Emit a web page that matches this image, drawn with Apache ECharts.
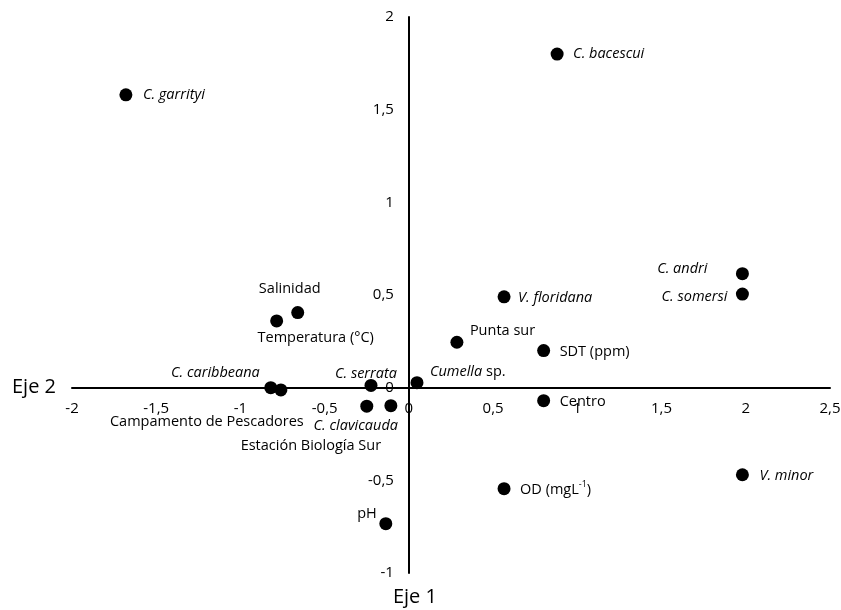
<!DOCTYPE html>
<html><head><meta charset="utf-8">
<script src="https://cdn.jsdelivr.net/npm/echarts@6/dist/echarts.min.js"></script>
<style>html,body{margin:0;padding:0;background:#fff}#c{width:841px;height:610px}</style>
</head><body><div id="c"></div>
<script>
// Data
const pointNames = ['C. garrityi','C. bacescui','C. andri','C. somersi','V. floridana','Punta sur','SDT (ppm)','Cumella sp.','Centro','V. minor','OD (mgL-1)','pH','Salinidad','Temperatura (°C)','C. caribbeana','Campamento de Pescadores','C. serrata','C. clavicauda','Estación Biología Sur'];
const eje2Values = [-1.68, 0.88, 1.98, 1.98, 0.565, 0.285, 0.80, 0.048, 0.80, 1.98, 0.565, -0.137, -0.66, -0.785, -0.82, -0.76, -0.225, -0.25, -0.107];
const eje1Values = [1.58, 1.80, 0.615, 0.505, 0.49, 0.245, 0.20, 0.027, -0.07, -0.47, -0.545, -0.734, 0.405, 0.36, 0.0, -0.012, 0.012, -0.10, -0.097];
const italicFlags = [true,true,true,true,true,false,false,false,false,true,false,false,false,false,true,false,true,true,false];
const xTicks = [-2,-1.5,-1,-0.5,0,0.5,1,1.5,2,2.5];
const yTicks = [-1,-0.5,0,0.5,1,1.5,2];

// Label placement relative to dot centre (style, not data): [align, dx, dy]
const labelLayout = [
  ['left',17,0],
  ['left',16,0],
  ['right',-35,-5],
  ['right',-15,3],
  ['left',14,1],
  ['left',13,-11],
  ['left',16,1],
  ['left',13,-11],
  ['left',16,1],
  ['left',17,1],
  ['left',16,1],
  ['right',-9,-10],
  ['center',-8,-24],
  ['center',39,17],
  ['right',-11,-15],
  ['center',-74,32],
  ['center',-5,-12],
  ['center',-11,20],
  ['center',-80,40]
];

const FONT = 'Open Sans';
const SYM = 13;
const fmt = v => String(v).replace('.', ',');

const seriesData = pointNames.map((n, i) => {
  const [al, dx, dy] = labelLayout[i];
  let formatter = n;
  if (n === 'Cumella sp.') formatter = '{i|Cumella}{n| sp.}';
  else if (n === 'OD (mgL-1)') formatter = '{n|OD (mgL}{s|-1}{n|)}';
  return {
    value: [eje2Values[i], eje1Values[i]],
    name: n,
    label: {
      show: true,
      position: [SYM / 2 + dx, SYM / 2 + dy],
      align: al, verticalAlign: 'middle',
      formatter: formatter,
      fontStyle: italicFlags[i] ? 'italic' : 'normal'
    }
  };
});

const GL = 72, GR = 11, GT = 17, GB = 37;
const W = 841, H = 610;
const xZeroPx = GL + (W - GL - GR) * (0 - xTicks[0]) / (xTicks[xTicks.length-1] - xTicks[0]);
const yZeroPx = GT + (H - GT - GB) * (yTicks[yTicks.length-1] - 0) / (yTicks[yTicks.length-1] - yTicks[0]);

const chart = echarts.init(document.getElementById('c'));
chart.setOption({
  animation: false,
  backgroundColor: '#fff',
  grid: { left: GL, right: GR, top: GT, bottom: GB, containLabel: false, outerBoundsMode: 'none' },
  xAxis: {
    type: 'value', min: xTicks[0], max: xTicks[xTicks.length-1], interval: 0.5,
    position: 'bottom', offset: -((H - GB) - yZeroPx),
    name: 'Eje 2', nameLocation: 'start', nameGap: 16,
    nameTextStyle: { fontFamily: FONT, fontSize: 20, color: '#000' },
    axisLine: { onZero: false, lineStyle: { color: '#000', width: 2 } },
    axisTick: { show: false }, splitLine: { show: false },
    axisLabel: { formatter: fmt, fontFamily: FONT, fontSize: 15, color: '#000', margin: 14, showMinLabel: true, showMaxLabel: true }
  },
  yAxis: {
    type: 'value', min: yTicks[0], max: yTicks[yTicks.length-1], interval: 0.5,
    position: 'left', offset: -(xZeroPx - GL),
    name: 'Eje 1', nameLocation: 'start', nameGap: 14,
    nameTextStyle: { fontFamily: FONT, fontSize: 20, color: '#000', padding: [0,0,0,12] },
    axisLine: { onZero: false, lineStyle: { color: '#000', width: 2 } },
    axisTick: { show: false }, splitLine: { show: false },
    axisLabel: { formatter: fmt, fontFamily: FONT, fontSize: 15, color: '#000', margin: 15, showMinLabel: true, showMaxLabel: true }
  },
  series: [{
    type: 'scatter',
    symbol: 'circle', symbolSize: SYM,
    itemStyle: { color: '#000', opacity: 1 },
    label: {
      color: '#000', fontFamily: FONT, fontSize: 14.5,
      rich: {
        i: { fontStyle: 'italic', fontFamily: FONT, fontSize: 14.5, color: '#000' },
        n: { fontStyle: 'normal', fontFamily: FONT, fontSize: 14.5, color: '#000', lineHeight: 20 },
        s: { fontFamily: FONT, fontSize: 9, color: '#000', verticalAlign: 'top', lineHeight: 12, padding: [0,0,6,0] }
      }
    },
    labelLayout: { hideOverlap: false },
    data: seriesData
  }]
});
</script></body></html>
